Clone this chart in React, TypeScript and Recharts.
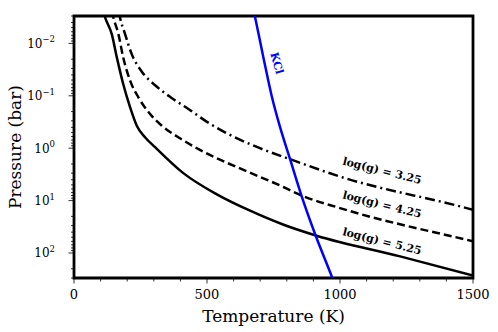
import { ComposedChart, Line, XAxis, YAxis, ReferenceArea, ReferenceDot } from "recharts";

// log(g) = 5.25 profile
const tempG525 = [110, 117, 142, 161, 185, 211, 236, 267, 305, 411, 537, 662, 788, 912, 1226, 1500];
const presG525 = [0.0024, 0.0032, 0.00665, 0.0185, 0.0596, 0.166, 0.372, 0.617, 0.957, 2.99, 7.6, 15.6, 28.9, 46.8, 116, 270];

// log(g) = 4.25 profile
const tempG425 = [142, 148, 167, 185, 211, 242, 286, 330, 392, 455, 524, 649, 787, 856, 1000, 1476, 1500];
const presG425 = [0.0024, 0.0032, 0.00665, 0.0185, 0.0515, 0.107, 0.222, 0.372, 0.617, 0.957, 1.45, 2.75, 5.5, 8.0, 13.9, 55.8, 59.6];

// log(g) = 3.25 profile
const tempG325 = [168, 173, 192, 217, 255, 305, 367, 430, 493, 574, 699, 812, 1000, 1476, 1500];
const presG325 = [0.0024, 0.0032, 0.00665, 0.016, 0.0347, 0.063, 0.11, 0.178, 0.298, 0.518, 1.0, 1.62, 3.48, 13.9, 15.0];

// KCl condensation curve
const tempKCl = [675, 681, 712, 743, 775, 812, 856, 908, 969, 981];
const presKCl = [0.00232, 0.0032, 0.0185, 0.0995, 0.402, 1.6, 8.28, 45.8, 279, 402];

const xTicks = [0, 100, 200, 300, 400, 500, 600, 700, 800, 900, 1000, 1100, 1200, 1300, 1400, 1500];
const xMajor = [0, 500, 1000, 1500];
const yTicks = [
  0.003, 0.004, 0.005, 0.006, 0.007, 0.008, 0.009,
  0.01, 0.02, 0.03, 0.04, 0.05, 0.06, 0.07, 0.08, 0.09,
  0.1, 0.2, 0.3, 0.4, 0.5, 0.6, 0.7, 0.8, 0.9,
  1, 2, 3, 4, 5, 6, 7, 8, 9,
  10, 20, 30, 40, 50, 60, 70, 80, 90,
  100, 200, 300,
];
const yMajor = [0.01, 0.1, 1, 10, 100];
const yExp = ["\u22122", "\u22121", "0", "1", "2"];

const labelsG = ["log(g) = 3.25", "log(g) = 4.25", "log(g) = 5.25"];
const labelT = [1158, 1158, 1158];
const labelP = [2.71, 12.0, 60.1];

const zip = (t: number[], p: number[]) => t.map((v, i) => ({ t: v, p: p[i] }));

const FONT = "DejaVu Serif";

const XTick = (props: any) => {
  const { x, y, payload } = props;
  const major = xMajor.includes(payload.value);
  return (
    <g>
      <line x1={x} x2={x} y1={y} y2={y + (major ? 5.5 : 3.5)} stroke="#000" strokeWidth={0.8} />
      {major && (
        <text x={x} y={y + 21} textAnchor="middle" fontFamily={FONT} fontSize={13} fill="#000">
          {payload.value}
        </text>
      )}
    </g>
  );
};

const YTick = (props: any) => {
  const { x, y, payload } = props;
  const idx = yMajor.indexOf(payload.value);
  const major = idx >= 0;
  return (
    <g>
      <line x1={x} x2={x - (major ? 5.5 : 3)} y1={y} y2={y} stroke="#000" strokeWidth={0.8} />
      {major && (
        <text x={x - 19} y={y + 4.5} textAnchor="end" fontFamily={FONT} fontSize={12} fill="#000">
          10
          <tspan dy={-5.5} fontSize={8.5}>
            {yExp[idx]}
          </tspan>
        </text>
      )}
    </g>
  );
};

const RotText = ({ cx, cy, text, angle, color }: any) => (
  <text
    x={cx}
    y={cy}
    transform={`rotate(${angle}, ${cx}, ${cy})`}
    textAnchor="middle"
    dominantBaseline="central"
    fontFamily={FONT}
    fontWeight="bold"
    fontSize={11}
    fill={color}
  >
    {text}
  </text>
);

export default function App() {
  return (
    <div style={{ position: "absolute", left: 0, top: 0, background: "#fff" }}>
      <ComposedChart width={498} height={332} margin={{ top: 16, right: 25, bottom: 0, left: 0 }}>
        <XAxis
          type="number"
          dataKey="t"
          domain={[0, 1500]}
          ticks={xTicks}
          interval={0}
          height={54}
          axisLine={false}
          tickLine={false}
          tickSize={0}
          tickMargin={0}
          tick={<XTick />}
          allowDataOverflow
          label={{
            content: ({ viewBox }: any) => (
              <text
                x={viewBox.x + viewBox.width / 2}
                y={viewBox.y + 44}
                textAnchor="middle"
                fontFamily={FONT}
                fontSize={17}
                fill="#000"
              >
                Temperature (K)
              </text>
            ),
          }}
        />
        <YAxis
          type="number"
          dataKey="p"
          scale="log"
          domain={[0.003, 300]}
          reversed
          ticks={yTicks}
          interval={0}
          width={74}
          axisLine={false}
          tickLine={false}
          tickSize={0}
          tickMargin={0}
          tick={<YTick />}
          allowDataOverflow
          label={{
            content: ({ viewBox }: any) => {
              const cx = 21;
              const cy = viewBox.y + viewBox.height / 2;
              return (
                <text
                  x={cx}
                  y={cy}
                  transform={`rotate(-90, ${cx}, ${cy})`}
                  textAnchor="middle"
                  fontFamily={FONT}
                  fontSize={17}
                  fill="#000"
                >
                  Pressure (bar)
                </text>
              );
            },
          }}
        />
        <Line
          data={zip(tempG325, presG325)}
          dataKey="p"
          type="monotone"
          stroke="#000"
          strokeWidth={2.5}
          strokeDasharray="10 4 2 4"
          dot={false}
          activeDot={false}
          isAnimationActive={false}
        />
        <Line
          data={zip(tempG425, presG425)}
          dataKey="p"
          type="monotone"
          stroke="#000"
          strokeWidth={2.5}
          strokeDasharray="8 4"
          dot={false}
          activeDot={false}
          isAnimationActive={false}
        />
        <Line
          data={zip(tempG525, presG525)}
          dataKey="p"
          type="monotone"
          stroke="#000"
          strokeWidth={2.5}
          dot={false}
          activeDot={false}
          isAnimationActive={false}
        />
        <Line
          data={zip(tempKCl, presKCl)}
          dataKey="p"
          type="monotone"
          stroke="#0000ff"
          strokeWidth={2.5}
          dot={false}
          activeDot={false}
          isAnimationActive={false}
        />
        <ReferenceArea
          x1={0}
          x2={1500}
          y1={0.003}
          y2={300}
          fill="none"
          stroke="#000"
          strokeWidth={2.8}
          ifOverflow="visible"
        />
        {labelsG.map((txt, i) => (
          <ReferenceDot
            key={txt}
            x={labelT[i]}
            y={labelP[i]}
            r={1}
            shape={(p: any) => <RotText cx={p.cx} cy={p.cy} text={txt} angle={14} color="#000" />}
          />
        ))}
        <ReferenceDot
          x={762}
          y={0.0239}
          r={1}
          shape={(p: any) => <RotText cx={p.cx} cy={p.cy} text="KCl" angle={74} color="#0000ff" />}
        />
      </ComposedChart>
    </div>
  );
}
